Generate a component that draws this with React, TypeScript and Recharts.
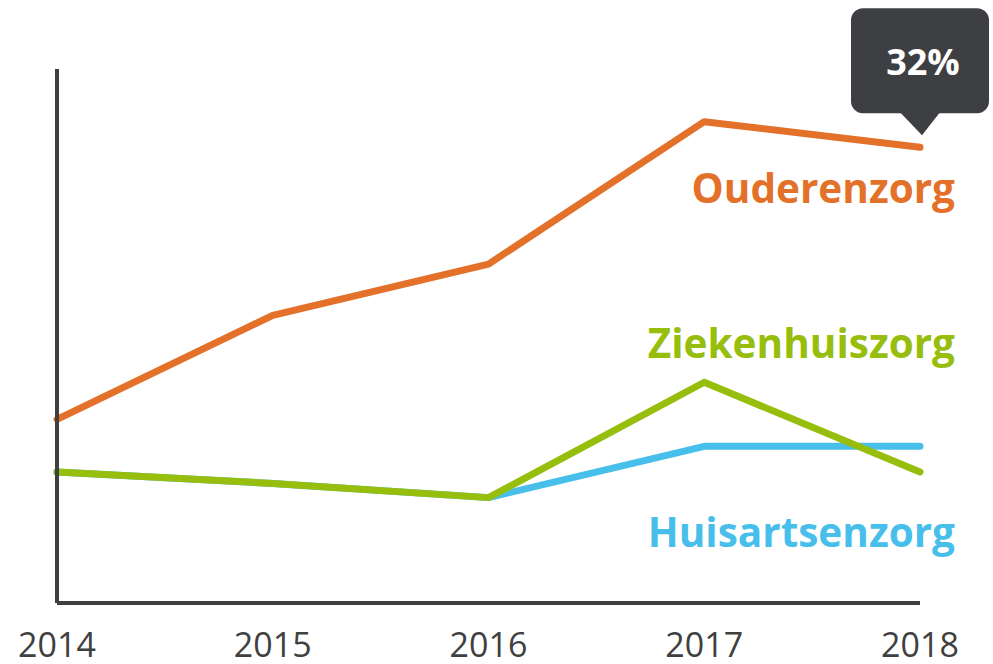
import React from 'react';
import { LineChart, Line, XAxis, YAxis, LabelList } from 'recharts';

const years = ['2014', '2015', '2016', '2017', '2018'];
const ouderenzorg = [12.9, 20.2, 23.8, 33.8, 32];
const ziekenhuiszorg = [9.2, 8.4, 7.4, 15.5, 9.2];
const huisartsenzorg = [9.2, 8.4, 7.4, 11.0, 11.0];

const ORANGE = '#E3712A';
const GREEN = '#97BE0D';
const BLUE = '#47BFEA';
const AXIS = '#3F3F41';
const FONT = '"Open Sans", sans-serif';

const data = years.map((year, i) => ({
  year,
  ouderenzorg: ouderenzorg[i],
  ziekenhuiszorg: ziekenhuiszorg[i],
  huisartsenzorg: huisartsenzorg[i],
}));

const last = years.length - 1;

// series name written at the right edge, shifted from the last point
function seriesLabel(text: string, color: string, dy: number) {
  return (props: any) => {
    if (props.index !== last) return null;
    return (
      <text
        x={Number(props.x) + 35}
        y={Number(props.y) + dy}
        textAnchor="end"
        fill={color}
        fontFamily={FONT}
        fontWeight={700}
        fontSize={40.5}
      >
        {text}
      </text>
    );
  };
}

// dark speech bubble above the last orange point
const Bubble = (props: any) => {
  if (props.index !== last) return null;
  const x = Number(props.x);
  const y = Number(props.y);
  const w = 138;
  const top = y - 139;
  const bottom = y - 34;
  return (
    <g>
      <rect x={x - w / 2} y={top} width={w} height={bottom - top} rx={12} fill="#3E3F42" />
      <path d={`M${x - 20},${bottom - 1} L${x + 20},${bottom - 1} L${x + 2},${y - 12} Z`} fill="#3E3F42" />
      <text
        x={x + 3}
        y={top + 67}
        textAnchor="middle"
        fill="#FFFFFF"
        fontFamily={FONT}
        fontWeight={700}
        fontSize={36}
      >
        {`${props.value}%`}
      </text>
    </g>
  );
};

export default function App() {
  return (
    <div style={{ position: 'absolute', left: 0, top: 0, width: 993, height: 664, background: '#fff' }}>
      <LineChart
        width={993}
        height={664}
        data={data}
        margin={{ top: 69, right: 73, left: 53, bottom: 0 }}
      >
        <XAxis
          dataKey="year"
          height={61}
          axisLine={{ stroke: AXIS, strokeWidth: 4 }}
          tickLine={false}
          tickSize={0}
          tickMargin={30}
          tick={{ fontSize: 34, fill: '#404040', fontFamily: FONT }}
          interval={0}
        />
        <YAxis
          width={4}
          domain={[0, 37.5]}
          tick={false}
          tickLine={false}
          axisLine={{ stroke: AXIS, strokeWidth: 4 }}
        />
        <Line
          dataKey="huisartsenzorg"
          stroke={BLUE}
          strokeWidth={7}
          strokeLinecap="round"
          strokeLinejoin="round"
          dot={false}
          activeDot={false}
          isAnimationActive={false}
        >
          <LabelList dataKey="huisartsenzorg" content={seriesLabel('Huisartsenzorg', BLUE, 101)} />
        </Line>
        <Line
          dataKey="ziekenhuiszorg"
          stroke={GREEN}
          strokeWidth={7}
          strokeLinecap="round"
          strokeLinejoin="round"
          dot={false}
          activeDot={false}
          isAnimationActive={false}
        >
          <LabelList dataKey="ziekenhuiszorg" content={seriesLabel('Ziekenhuiszorg', GREEN, -114)} />
        </Line>
        <Line
          dataKey="ouderenzorg"
          stroke={ORANGE}
          strokeWidth={7}
          strokeLinecap="round"
          strokeLinejoin="round"
          dot={false}
          activeDot={false}
          isAnimationActive={false}
        >
          <LabelList dataKey="ouderenzorg" content={seriesLabel('Ouderenzorg', ORANGE, 56)} />
          <LabelList dataKey="ouderenzorg" content={Bubble} />
        </Line>
      </LineChart>
    </div>
  );
}
